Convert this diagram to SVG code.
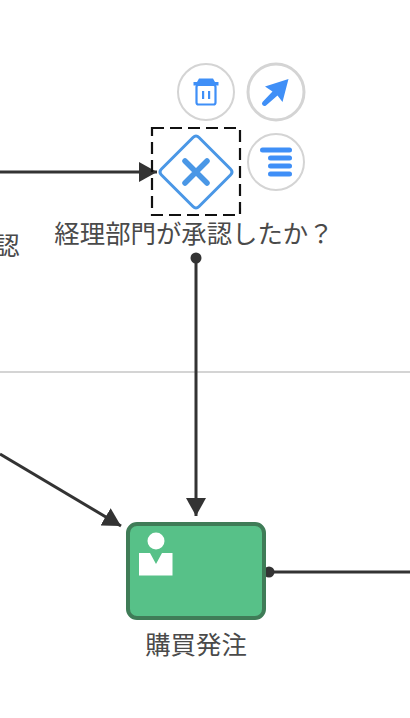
<svg xmlns="http://www.w3.org/2000/svg" width="410" height="718" viewBox="0 0 410 718">
<defs>
<style>
.t{font-family:"Noto Sans CJK JP","Noto Sans",sans-serif;font-size:25.400px;fill:#4a4a4a;text-anchor:middle}
.c{fill:none;stroke:#333;stroke-width:3}
.b{fill:#3f8ff7}
.r{fill:#fff;stroke:#d4d4d4;stroke-width:2}
</style>
<marker id="ah" markerUnits="userSpaceOnUse" markerWidth="20" markerHeight="20" refX="18" refY="10" orient="auto"><path d="M0 0L18 10L0 20Z" fill="#333"/></marker>
</defs>
<rect width="410" height="718" fill="#fff"/>
<line x1="0" y1="372" x2="410" y2="372" stroke="#d4d4d4" stroke-width="2"/>
<g id="connectors">
<path class="c" d="M0 172H157" marker-end="url(#ah)"/>
<path class="c" d="M196 258V516" marker-end="url(#ah)"/>
<circle cx="196" cy="258" r="5.500" fill="#333"/>
<path class="c" d="M0 454L121 526" marker-end="url(#ah)"/>
<path class="c" d="M268 572H410"/>
<circle cx="269" cy="572" r="5.500" fill="#333"/>
</g>
<g id="gateway">
<path d="M193 137.500Q196 134.500 199 137.500L230.500 169Q233.500 172 230.500 175L199 206.500Q196 209.500 193 206.500L161.500 175Q158.500 172 161.500 169Z" fill="#fff" stroke="#4a97e6" stroke-width="3"/>
<path d="M185 161L207 183M207 161L185 183" stroke="#4a97e6" stroke-width="5.500" stroke-linecap="round"/>
<path d="M152 128H240V215H152Z" fill="none" stroke="#111" stroke-width="2.200" stroke-dasharray="12 6"/>
<text class="t" x="194" y="243">経理部門が承認したか？</text>
</g>
<g id="delete">
<circle class="r" cx="206" cy="92" r="28"/>
<path class="b" d="M193.500 82H197L199 78.500H213L215 82H218.500V85.500H193.500Z"/>
<rect x="196.500" y="85" width="19" height="19.500" rx="2" fill="none" stroke="#3f8ff7" stroke-width="2.200"/>
<rect x="202" y="91" width="2.200" height="8" class="b"/><rect x="208" y="91" width="2.200" height="8" class="b"/>
</g>
<g id="connect">
<circle class="r" cx="276" cy="92" r="28" style="stroke-width:3"/>
<path class="b" d="M288.500 79L282.500 102L277.500 95.500L266 105.500A2.500 2.500 0 0 1 262.500 102L272.500 91.500L265 86.500Z"/>
</g>
<g id="type">
<circle class="r" cx="276" cy="162" r="28"/>
<rect class="b" x="260" y="147.500" width="32" height="5" rx="2.500"/>
<rect class="b" x="268" y="155.500" width="24" height="5" rx="2.500"/>
<rect class="b" x="268" y="163.500" width="24" height="5" rx="2.500"/>
<rect class="b" x="268" y="171.500" width="24" height="5" rx="2.500"/>
</g>
<g id="task">
<rect x="128" y="524" width="136" height="94" rx="9" fill="#57c188" stroke="#3f7c57" stroke-width="4"/>
<circle cx="156" cy="541" r="8.500" fill="#fff"/>
<path d="M139 553H150L156 564L162 553H172.500V575.500H139Z" fill="#fff"/>
<text class="t" x="196" y="654">購買発注</text>
</g>
<text class="t" x="7" y="255">認</text>
</svg>
